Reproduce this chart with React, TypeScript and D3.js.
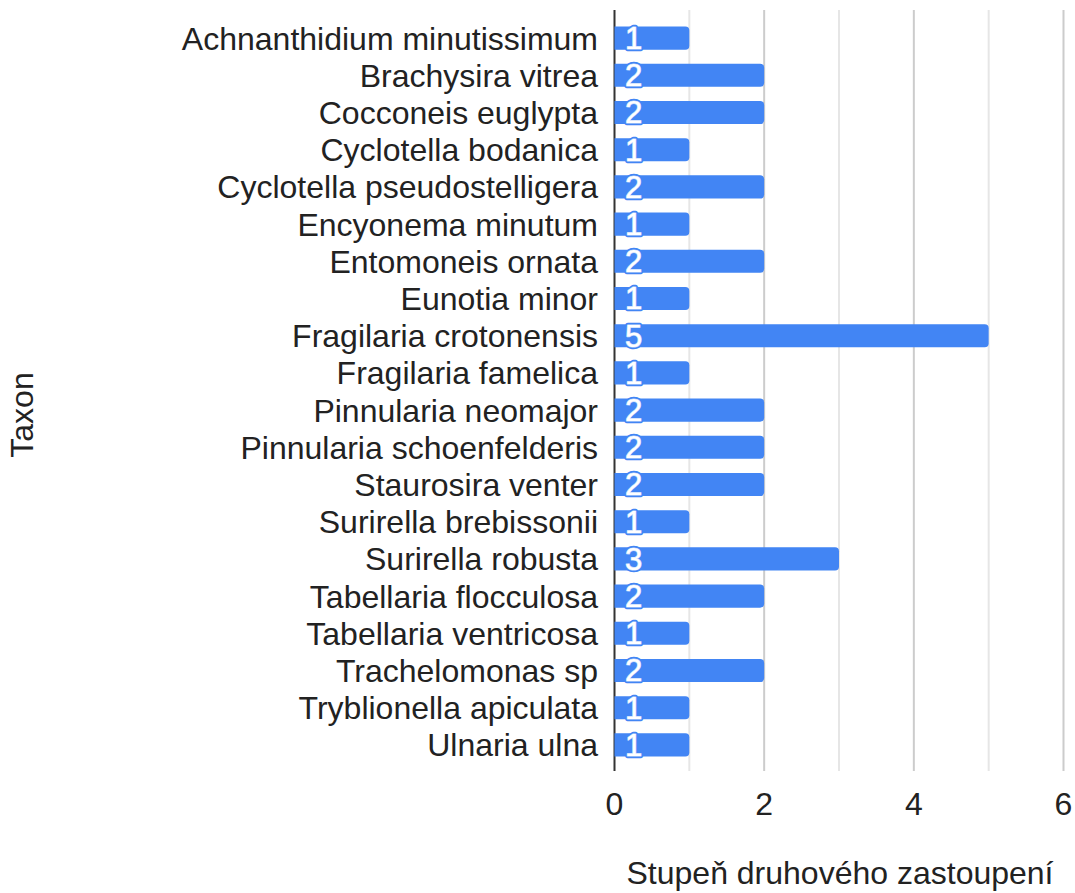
import React from "react";
import * as d3 from "d3";

const categories = [
  "Achnanthidium minutissimum",
  "Brachysira vitrea",
  "Cocconeis euglypta",
  "Cyclotella bodanica",
  "Cyclotella pseudostelligera",
  "Encyonema minutum",
  "Entomoneis ornata",
  "Eunotia minor",
  "Fragilaria crotonensis",
  "Fragilaria famelica",
  "Pinnularia neomajor",
  "Pinnularia schoenfelderis",
  "Staurosira venter",
  "Surirella brebissonii",
  "Surirella robusta",
  "Tabellaria flocculosa",
  "Tabellaria ventricosa",
  "Trachelomonas sp",
  "Tryblionella apiculata",
  "Ulnaria ulna",
];
const values = [1, 2, 2, 1, 2, 1, 2, 1, 5, 1, 2, 2, 2, 1, 3, 2, 1, 2, 1, 1];
const xTicks = [0, 2, 4, 6];
const gridValues = [1, 2, 3, 4, 5, 6];
const xTitle = "Stupeň druhového zastoupení";
const yTitle = "Taxon";

const W = 1075;
const H = 893;
const FONT = "Arial, 'Liberation Sans', sans-serif";
const BLUE = "#4285F4";
const FS = 32;
const LFS = 31;

export default function App() {
  const left = 614.5;
  const right = 1063.5;
  const top = 19.5;
  const bottom = 763.5;
  const x = d3.scaleLinear().domain([0, 6]).range([left, right]);
  const y = d3.scaleBand().domain(categories).range([top, bottom]).paddingInner(0.38).paddingOuter(0.19);
  const bh = y.bandwidth();
  const r = 4;

  const barPath = (v: number, cat: string) => {
    const x0 = x(0);
    const x1 = x(v);
    const y0 = y(cat)!;
    const y1 = y0 + bh;
    return `M${x0},${y0}H${x1 - r}Q${x1},${y0} ${x1},${y0 + r}V${y1 - r}Q${x1},${y1} ${x1 - r},${y1}H${x0}Z`;
  };

  return (
    <svg width={W} height={H} style={{ position: "absolute", left: 0, top: 0, background: "#fff" }} fontFamily={FONT}>
      <rect width={W} height={H} fill="#fff" />
      {gridValues.map((g) => (
        <line key={g} x1={x(g)} x2={x(g)} y1={10} y2={771} stroke={g % 2 === 0 ? "#cccccc" : "#e6e6e6"} strokeWidth={2} />
      ))}
      <line x1={x(0)} x2={x(0)} y1={10} y2={771} stroke="#333" strokeWidth={2} />
      {categories.map((c, i) => (
        <path key={c} d={barPath(values[i], c)} fill={BLUE} />
      ))}
      {categories.map((c, i) => {
        const cy = y(c)! + bh / 2;
        const lx = x(0) + 19;
        return (
          <g key={"l" + c}>
            <text x={lx} y={cy} dy="0.35em" textAnchor="middle" fontSize={LFS} fill="#fff" stroke={BLUE} strokeWidth={4.5} strokeLinejoin="round">
              {values[i]}
            </text>
            <text x={lx} y={cy} dy="0.35em" textAnchor="middle" fontSize={LFS} fill="#fff" stroke="#fff" strokeWidth={1.2} strokeOpacity={0.7} strokeLinejoin="round">
              {values[i]}
            </text>
          </g>
        );
      })}
      {categories.map((c) => (
        <text key={"c" + c} x={598} y={y(c)! + bh / 2} dy="0.36em" textAnchor="end" fontSize={FS} fill="#222">
          {c}
        </text>
      ))}
      {xTicks.map((t) => (
        <text key={"t" + t} x={x(t)} y={815} textAnchor="middle" fontSize={FS} fill="#222">
          {t}
        </text>
      ))}
      <text x={840} y={884} textAnchor="middle" fontSize={FS} fill="#222">
        {xTitle}
      </text>
      <text transform={`translate(33,415) rotate(-90)`} textAnchor="middle" fontSize={FS} fill="#222">
        {yTitle}
      </text>
    </svg>
  );
}
